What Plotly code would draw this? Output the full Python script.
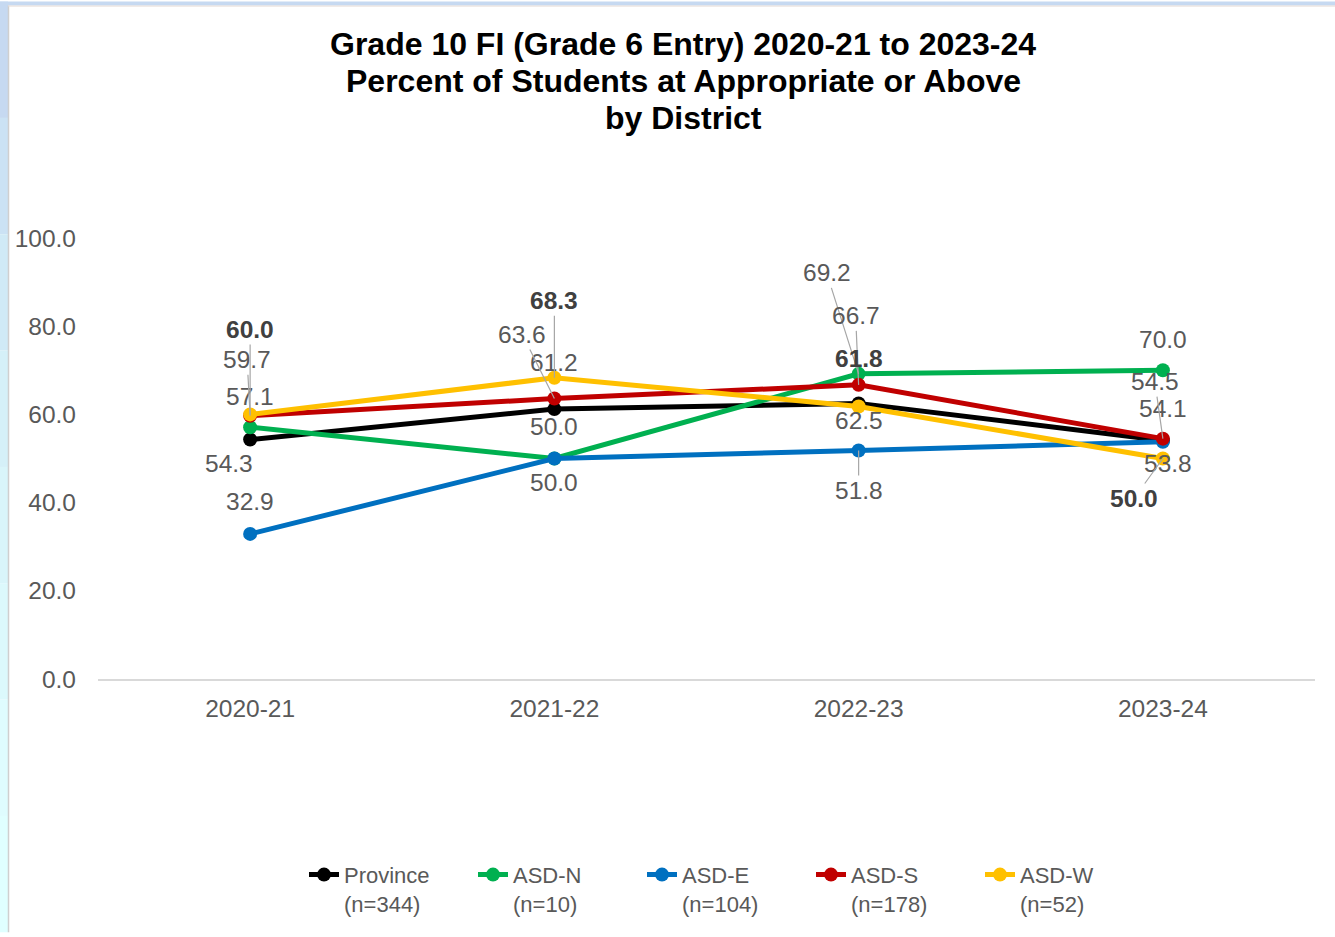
"""
Grade 10 FI (Grade 6 Entry) — percent of students at appropriate or above,
by district, 2020-21 to 2023-24.
"""

import plotly.graph_objects as go

# ---- data -----------------------------------------------------------------
years = ['2020-21', '2021-22', '2022-23', '2023-24']

series_names = ['Province', 'ASD-N', 'ASD-E', 'ASD-S', 'ASD-W']
series_counts = ['344', '10', '104', '178', '52']

province = [54.3, 61.2, 62.5, 54.1]
asd_n = [57.1, 50.0, 69.2, 70.0]
asd_e = [32.9, 50.0, 51.8, 53.8]
asd_s = [59.7, 63.6, 66.7, 54.5]
asd_w = [60.0, 68.3, 61.8, 50.0]

y_ticks = [0, 20, 40, 60, 80, 100]

title_lines = [
    'Grade 10 FI (Grade 6 Entry) 2020-21 to 2023-24',
    'Percent of Students at Appropriate or Above',
    'by District',
]

# ---- styling --------------------------------------------------------------
W, H = 1335, 937
L, R, T, B = 98, 20, 238, 255
PW, PH = W - L - R, H - T - B

colors = {
    'Province': '#000000',
    'ASD-N': '#00b050',
    'ASD-E': '#0070c0',
    'ASD-S': '#c00000',
    'ASD-W': '#ffc000',
}

# label offsets in pixels (dx right, dy down) and whether a leader line is drawn
label_pos = {
    'Province': [(-21, 24, False), (0, -47, False), (0, 17, False), (0, -32, False)],
    'ASD-N': [(0, -31, False), (0, -32, False), (-32, -101, True), (0, -31, False)],
    'ASD-E': [(0, -32, False), (0, 24, False), (0, 40, True), (5, 22, False)],
    'ASD-S': [(-3, -56, True), (-32, -64, True), (-3, -69, True), (-8, -57, True)],
    'ASD-W': [(0, -85, True), (0, -77, True), (0, -48, False), (-29, 40, True)],
}

FONT = 'Liberation Sans, Arial, sans-serif'
GREY = '#595959'


def px_x(px):
    return (px - L) / PW


def px_y(py):
    return (H - B - py) / PH


values = {
    'Province': province,
    'ASD-N': asd_n,
    'ASD-E': asd_e,
    'ASD-S': asd_s,
    'ASD-W': asd_w,
}

fig = go.Figure()

for name, n in zip(series_names, series_counts):
    fig.add_trace(go.Scatter(
        x=years,
        y=values[name],
        mode='lines+markers',
        name=f'{name}<br>(n={n})',
        line=dict(color=colors[name], width=5),
        marker=dict(size=14, color=colors[name]),
        cliponaxis=False,
    ))

# data labels
annotations = []
for name in series_names:
    bold = name == 'ASD-W'
    for i, (yr, v) in enumerate(zip(years, values[name])):
        dx, dy, leader = label_pos[name][i]
        txt = f'<b>{v:.1f}</b>' if bold else f'{v:.1f}'
        font = dict(family=FONT, size=24.5, color='#404040' if bold else GREY)
        if leader:
            annotations.append(dict(
                x=yr, y=v, xref='x', yref='y', text=txt, font=font,
                showarrow=True, arrowhead=0, arrowwidth=1.2,
                arrowcolor='#a6a6a6', ax=dx, ay=dy, standoff=0,
            ))
        else:
            annotations.append(dict(
                x=yr, y=v, xref='x', yref='y', text=txt, font=font,
                showarrow=False, xshift=dx, yshift=-dy,
            ))

# title, one annotation per line so the line spacing can follow the original
for k, line in enumerate(title_lines):
    annotations.append(dict(
        x=px_x(683), y=px_y(43 + 37 * k), xref='paper', yref='paper',
        text=f'<b>{line}</b>', showarrow=False,
        xanchor='center', yanchor='middle',
        font=dict(family=FONT, size=32, color='#000000'),
    ))

# screenshot frame: blue strips on the left and top edges
shapes = []
band_cols = ['#c6d9f1', '#cbe2f4', '#d0eaf6', '#d5f0f8', '#d9f5fa', '#dcf9fc', '#dffcfe', '#e0ffff']
step = H / len(band_cols)
for k, c in enumerate(band_cols):
    shapes.append(dict(
        type='rect', xref='paper', yref='paper', layer='below',
        x0=px_x(0), x1=px_x(8), y0=px_y(k * step), y1=px_y((k + 1) * step),
        fillcolor=c, line=dict(width=0),
    ))
shapes.append(dict(
    type='rect', xref='paper', yref='paper', layer='below',
    x0=px_x(0), x1=px_x(W), y0=px_y(0), y1=px_y(4),
    fillcolor='#c6d9f1', line=dict(width=0),
))
shapes.append(dict(
    type='line', xref='paper', yref='paper', layer='below',
    x0=px_x(8.5), x1=px_x(8.5), y0=px_y(4), y1=px_y(H),
    line=dict(color='#cfcfcf', width=1.5),
))
shapes.append(dict(
    type='line', xref='paper', yref='paper', layer='below',
    x0=px_x(8), x1=px_x(W), y0=px_y(4.5), y1=px_y(4.5),
    line=dict(color='#e6dcd6', width=1),
))

fig.update_layout(
    width=W,
    height=H,
    margin=dict(l=L, r=R, t=T, b=B),
    paper_bgcolor='white',
    plot_bgcolor='white',
    xaxis=dict(
        type='category',
        range=[-0.5, 3.5],
        showline=True,
        linecolor='#d9d9d9',
        linewidth=1.5,
        showgrid=False,
        ticks='',
        tickfont=dict(family=FONT, size=24.5, color=GREY),
        ticklabelstandoff=7,
    ),
    yaxis=dict(
        range=[0, 100],
        tickvals=y_ticks,
        tickformat='.1f',
        showgrid=False,
        zeroline=False,
        showline=False,
        ticks='',
        tickfont=dict(family=FONT, size=24.5, color=GREY),
        ticklabelstandoff=21,
    ),
    legend=dict(
        orientation='h',
        x=px_x(304), xanchor='left',
        y=px_y(858), yanchor='top',
        font=dict(family=FONT, size=22, color=GREY),
        valign='top',
        entrywidth=124,
        entrywidthmode='pixels',
        bgcolor='rgba(0,0,0,0)',
    ),
    annotations=annotations,
    shapes=shapes,
)

# drop the browser's default body margin so the figure sits at the page corner
fig.write_html('out.html', config={'displayModeBar': False},
               post_script="document.body.style.margin='0';")
